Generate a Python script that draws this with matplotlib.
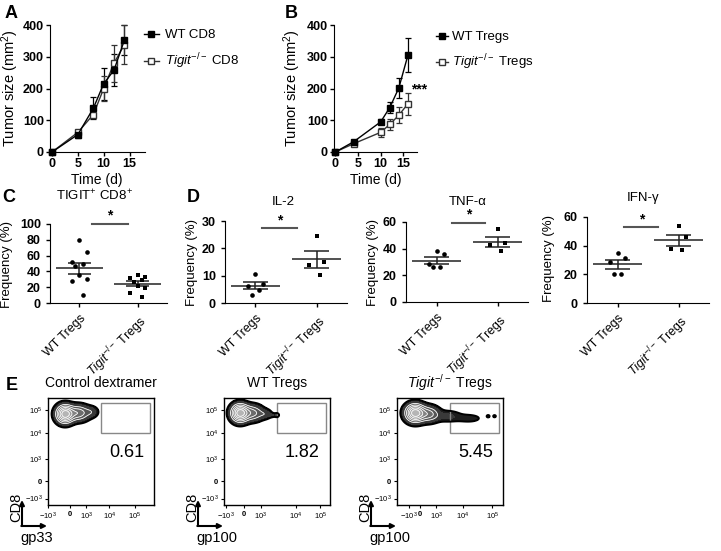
import numpy as np
import matplotlib
matplotlib.use('Agg')
import matplotlib.pyplot as plt
from matplotlib.patches import Rectangle

plt.rcParams['font.family'] = ['Liberation Sans', 'DejaVu Sans']
plt.rcParams['mathtext.fontset'] = 'custom'
plt.rcParams['mathtext.rm'] = 'Liberation Sans'
plt.rcParams['mathtext.it'] = 'Liberation Sans:italic'
plt.rcParams['mathtext.bf'] = 'Liberation Sans:bold'

W, H = 721, 551
KO = r'$\mathit{Tigit}^{-/-}$'

# A: tumor growth with CD8 transfer
days_a = [0, 5, 8, 10, 12, 14]
wt_cd8 = [0, 55, 138, 215, 258, 352]
wt_cd8_err = [0, 12, 35, 50, 50, 48]
ko_cd8 = [0, 62, 118, 200, 280, 338]
ko_cd8_err = [0, 8, 10, 38, 58, 62]

# B: tumor growth with Treg transfer
days_b = [0, 4, 10, 12, 14, 16]
wt_treg = [0, 32, 95, 140, 202, 305]
wt_treg_err = [0, 4, 8, 16, 32, 54]
ko_treg = [0, 26, 62, 87, 116, 152]
ko_treg_err = [0, 4, 14, 18, 26, 34]

# C / D: frequencies (%)
tigit_wt = [80, 64, 52, 50, 47, 35, 30, 28, 10]
tigit_ko = [35, 33, 32, 29, 26, 22, 19, 13, 8]
il2_wt = [10.5, 6.9, 6.2, 4.6, 3.1]
il2_ko = [24.6, 15.0, 13.8, 10.4]
tnf_wt = [38, 36, 28.5, 26.5, 26]
tnf_ko = [55, 44, 43, 38]
ifn_wt = [35, 31.5, 28.5, 20, 20]
ifn_ko = [54, 46, 37.5, 37]
group_labels = ['WT Tregs', KO + ' Tregs']

# E: flow plots (population blobs: x, y, sx, sy, weight in axis units 0-100)
flow_titles = ['Control dextramer', 'WT Tregs', KO + ' Tregs']
flow_xlabels = ['gp33', 'gp100', 'gp100']
flow_pct = ['0.61', '1.82', '5.45']
flow_blobs = [
    [(16, 85, 5, 5, 1.0), (29, 86, 6, 4.5, 0.45), (41, 87, 4, 3.2, 0.15)],
    [(15, 86, 5, 5, 1.0), (27, 86, 6, 4.5, 0.4), (39, 85, 4, 2.8, 0.14),
     (46, 84, 3, 1.2, 0.08), (50, 84, 1.4, 1.4, 0.08)],
    [(17, 86, 5.5, 5, 1.0), (30, 85, 6, 4.5, 0.4), (48, 83, 8, 3.4, 0.12),
     (68, 81, 8, 2.6, 0.08), (86, 83, 1.2, 1.0, 0.07), (92, 83, 1.2, 1.0, 0.07)],
]
flow_xticks = [[0, 21, 36, 58, 82], [2, 19, 35, 68, 91], [11, 22, 37, 62, 90]]
flow_xticklabels = ['$-10^3$', '0', '$10^3$', '$10^4$', '$10^5$']
flow_yticks = [6, 22, 43, 67, 89]
flow_yticklabels = ['$-10^3$', '0', '$10^3$', '$10^4$', '$10^5$']

fig = plt.figure(figsize=(W / 100, H / 100), dpi=100)


def box(l, t, r, b):
    return fig.add_axes([l / W, 1 - b / H, (r - l) / W, (b - t) / H])


def ftxt(x, y, s, **kw):
    kw.setdefault('ha', 'center')
    kw.setdefault('va', 'center')
    fig.text(x / W, 1 - y / H, s, **kw)


def growth(ax, days, wt, wt_err, ko, ko_err, xlim):
    ax.errorbar(days, wt, yerr=wt_err, fmt='none', ecolor='black',
                elinewidth=0.9, capsize=2.5, capthick=0.9, clip_on=False)
    ax.errorbar(days, ko, yerr=ko_err, fmt='none', ecolor='#333333',
                elinewidth=0.9, capsize=2.5, capthick=0.9, clip_on=False)
    l1, = ax.plot(days, wt, '-s', color='black', ms=4, lw=1, clip_on=False, zorder=4)
    l2, = ax.plot(days, ko, '-s', color='#333333', ms=4, lw=1, mfc='white',
                  clip_on=False, zorder=3)
    ax.set_xlim(xlim)
    ax.set_ylim(0, 400)
    ax.set_xticks([0, 5, 10, 15])
    ax.set_yticks([0, 100, 200, 300, 400])
    for s in ['top', 'right']:
        ax.spines[s].set_visible(False)
    ax.tick_params(labelsize=9, width=1, length=3, pad=1.5)
    for lab in ax.get_xticklabels() + ax.get_yticklabels():
        lab.set_fontweight('bold')
    return l1, l2


def spread(n, w=0.13):
    return w * np.resize([0, 1, -1, 0.5, -0.5], n)


def dots(ax, wt, ko, ymax, step, sig):
    for i, (vals, mk) in enumerate([(wt, 'o'), (ko, 's')]):
        vals = np.asarray(vals, dtype=float)
        ax.scatter(i + spread(len(vals)), vals, marker=mk, s=11, color='black',
                   clip_on=False, zorder=3, linewidths=0)
        m = vals.mean()
        se = vals.std(ddof=1) / np.sqrt(len(vals))
        ax.hlines(m, i - 0.4, i + 0.4, color='#222222', lw=1.1)
        ax.hlines([m - se, m + se], i - 0.2, i + 0.2, color='#222222', lw=1.1)
        ax.vlines(i, m - se, m + se, color='#222222', lw=1.1)
    ax.set_xlim(-0.5, 1.5)
    ax.set_ylim(0, ymax)
    ax.set_yticks(np.arange(0, ymax + 1, step))
    ax.set_xticks([0, 1])
    ax.set_xticklabels(group_labels, rotation=45, ha='right', va='top',
                       rotation_mode='anchor', fontsize=10)
    for s in ['top', 'right']:
        ax.spines[s].set_visible(False)
    ax.tick_params(labelsize=9, width=1, length=3)
    for lab in ax.get_yticklabels():
        lab.set_fontweight('bold')
    x0, x1, y = sig
    ax.plot([x0, x1], [y, y], color='#555555', lw=1.5, clip_on=False)
    ax.annotate('*', ((x0 + x1) / 2, y), xytext=(0, 1), textcoords='offset points',
                ha='center', va='bottom', fontsize=10, fontweight='bold',
                annotation_clip=False)


# ---- A ----
axA = box(50, 25, 145, 152)
hA = growth(axA, days_a, wt_cd8, wt_cd8_err, ko_cd8, ko_cd8_err, (-0.4, 18))
axA.legend(hA, ['WT CD8', KO + ' CD8'], loc='upper left',
           bbox_to_anchor=(144 / W, 1 - 29 / H), bbox_transform=fig.transFigure,
           frameon=False, fontsize=9.5, handlelength=1.1, handletextpad=0.5,
           labelspacing=0.8, borderpad=0, borderaxespad=0)
ftxt(10, 88, 'Tumor size (mm$^{2}$)', rotation=90, fontsize=10.5)
ftxt(97, 180, 'Time (d)', fontsize=10)
ftxt(11, 14, 'A', fontsize=13, fontweight='bold')

# ---- B ----
axB = box(334, 25, 417, 152)
hB = growth(axB, days_b, wt_treg, wt_treg_err, ko_treg, ko_treg_err, (-0.3, 18))
axB.legend(hB, ['WT Tregs', KO + ' Tregs'], loc='upper left',
           bbox_to_anchor=(436 / W, 1 - 31 / H), bbox_transform=fig.transFigure,
           frameon=False, fontsize=9.5, handlelength=0.9, handletextpad=0.3,
           labelspacing=0.7, borderpad=0, borderaxespad=0)
axB.text(16.7, 198, '***', fontsize=10, fontweight='bold', ha='left', va='center',
         clip_on=False)
ftxt(292, 88, 'Tumor size (mm$^{2}$)', rotation=90, fontsize=10.5)
ftxt(376, 180, 'Time (d)', fontsize=10)
ftxt(291, 14, 'B', fontsize=13, fontweight='bold')

# ---- C ----
axC = box(50, 224, 167, 303)
dots(axC, tigit_wt, tigit_ko, 100, 20, (0.22, 0.83, 100))
ftxt(94, 196, 'TIGIT$^{+}$ CD8$^{+}$', fontsize=9.5)
ftxt(7, 265, 'Frequency (%)', rotation=90, fontsize=9.5)
ftxt(9, 198, 'C', fontsize=13, fontweight='bold')

# ---- D ----
axD1 = box(225, 221, 347, 303)
dots(axD1, il2_wt, il2_ko, 30, 10, (0.11, 0.68, 27.3))
ftxt(283, 202, 'IL-2', fontsize=9.5)
ftxt(192, 262, 'Frequency (%)', rotation=90, fontsize=9.5)
ftxt(193, 198, 'D', fontsize=13, fontweight='bold')

axD2 = box(406, 222, 528, 302)
dots(axD2, tnf_wt, tnf_ko, 60, 20, (0.25, 0.79, 59.3))
ftxt(468, 202, 'TNF-α', fontsize=9.5)
ftxt(373, 262, 'Frequency (%)', rotation=90, fontsize=9.5)

axD3 = box(587, 217, 709, 303)
dots(axD3, ifn_wt, ifn_ko, 60, 20, (0.11, 0.67, 52.7))
ftxt(643, 198, 'IFN-γ', fontsize=9.5)
ftxt(549, 258, 'Frequency (%)', rotation=90, fontsize=9.5)

# ---- E ----
ftxt(12, 385, 'E', fontsize=13, fontweight='bold')
gx, gy = np.meshgrid(np.linspace(0, 100, 400), np.linspace(0, 100, 400))
lefts = [48, 224, 397]
for k, left in enumerate(lefts):
    ax = box(left, 398, left + 106, 505)
    dens = np.zeros_like(gx)
    for cx, cy, sx, sy, wgt in flow_blobs[k]:
        dens += wgt * np.exp(-((gx - cx) ** 2 / (2 * sx ** 2) + (gy - cy) ** 2 / (2 * sy ** 2)))
    lev = np.array([0.04, 0.1, 0.2, 0.33, 0.48, 0.64, 0.82, 1.01]) * dens.max()
    cols = plt.cm.Greys(np.linspace(0.9, 0.4, len(lev) - 1))
    ax.contourf(gx, gy, dens, levels=lev, colors=cols)
    ax.contour(gx, gy, dens, levels=lev[2:-1], colors='white', linewidths=0.6)
    ax.contour(gx, gy, dens, levels=lev[:1], colors='black', linewidths=1.4)
    ax.add_patch(Rectangle((50, 67), 46, 28, fill=False, ec='#888888', lw=1))
    ax.text(74, 49, flow_pct[k], fontsize=13, ha='center', va='center')
    ax.set_xlim(0, 100)
    ax.set_ylim(0, 100)
    ax.set_xticks(flow_xticks[k])
    ax.set_xticklabels(flow_xticklabels, fontsize=5.5, fontweight='bold')
    ax.set_yticks(flow_yticks)
    ax.set_yticklabels(flow_yticklabels, fontsize=5.5, fontweight='bold')
    ax.tick_params(length=2, width=0.8, pad=2)
    for s in ax.spines.values():
        s.set_linewidth(1)
    ftxt(left + 53, 383, flow_titles[k], fontsize=10)
    # axis arrows
    ax.annotate('', xy=(left - 26, H - 500), xytext=(left - 26, H - 526),
                xycoords='figure pixels', textcoords='figure pixels',
                arrowprops=dict(arrowstyle='-|>', lw=1.5, color='black',
                                shrinkA=0, shrinkB=0, mutation_scale=7))
    ax.annotate('', xy=(left - 1, H - 526), xytext=(left - 26.7, H - 526),
                xycoords='figure pixels', textcoords='figure pixels',
                arrowprops=dict(arrowstyle='-|>', lw=1.5, color='black',
                                shrinkA=0, shrinkB=0, mutation_scale=7))
    ftxt(left - 32, 507, 'CD8', rotation=90, fontsize=10.5)
    ftxt(left - 28, 538, flow_xlabels[k], fontsize=10.5, ha='left')

fig.savefig('out.png', dpi=100)
